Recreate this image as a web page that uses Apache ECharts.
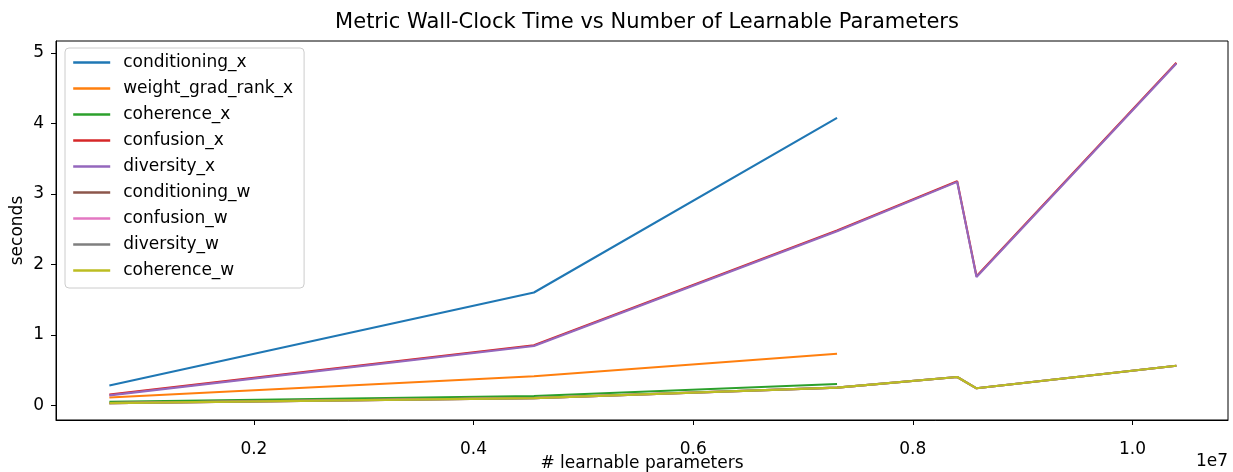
<!DOCTYPE html>
<html>
<head>
<meta charset="utf-8">
<script src="https://cdn.jsdelivr.net/npm/echarts@6/dist/echarts.min.js"></script>
<style>
  html, body { margin: 0; padding: 0; background: #fff; }
  #chart { width: 1233px; height: 472px; }
</style>
</head>
<body>
<div id="chart"></div>
<script>
// Model sizes (learnable parameters) at which each metric was timed
const paramCounts = [684000, 4550000, 7310000, 8404000, 8580000, 10400000];

// Wall-clock time in seconds per metric
const conditioningX   = [0.28, 1.60, 4.08];
const weightGradRankX = [0.11, 0.41, 0.73];
const coherenceX      = [0.05, 0.13, 0.30];
const confusionX      = [0.15, 0.85, 2.48, 3.18, 1.83, 4.86];
const diversityX      = [0.14, 0.84, 2.47, 3.17, 1.82, 4.85];
const conditioningW   = [0.03, 0.10, 0.25, 0.40, 0.24, 0.56];
const confusionW      = [0.03, 0.10, 0.25, 0.40, 0.24, 0.56];
const diversityW      = [0.03, 0.10, 0.25, 0.40, 0.24, 0.56];
const coherenceW      = [0.03, 0.10, 0.25, 0.40, 0.24, 0.56];

const seriesNames = ['conditioning_x', 'weight_grad_rank_x', 'coherence_x', 'confusion_x',
  'diversity_x', 'conditioning_w', 'confusion_w', 'diversity_w', 'coherence_w'];
const seriesValues = [conditioningX, weightGradRankX, coherenceX, confusionX,
  diversityX, conditioningW, confusionW, diversityW, coherenceW];

// Axis tick positions
const xTicks = [2000000, 4000000, 6000000, 8000000, 10000000];
const yTicks = [0, 1, 2, 3, 4, 5];

const palette = ['#1f77b4', '#ff7f0e', '#2ca02c', '#d62728', '#9467bd',
  '#8c564b', '#e377c2', '#7f7f7f', '#bcbd22'];

const FONT = 'DejaVu Sans';

const chart = echarts.init(document.getElementById('chart'), null, { renderer: 'canvas' });

const series = seriesNames.map((name, i) => ({
  name: name,
  type: 'line',
  symbol: 'none',
  animation: false,
  data: seriesValues[i].map((v, j) => [paramCounts[j], v]),
  lineStyle: { width: 2.1, color: palette[i] },
  itemStyle: { color: palette[i] }
}));

chart.setOption({
  animation: false,
  color: palette,
  title: {
    text: 'Metric Wall-Clock Time vs Number of Learnable Parameters',
    left: 642,
    textAlign: 'center',
    top: 7,
    textStyle: { fontFamily: FONT, fontSize: 21, fontWeight: 'normal', color: '#000' }
  },
  grid: {
    left: 56, right: 5, top: 41, bottom: 52,
    outerBoundsMode: 'none',
    containLabel: false,
    show: true, borderColor: '#000', borderWidth: 1, backgroundColor: 'transparent'
  },
  legend: {
    orient: 'vertical',
    left: 65, top: 48,
    itemWidth: 37, itemHeight: 17, itemGap: 9,
    padding: [6, 11, 9, 7],
    backgroundColor: 'rgba(255,255,255,0.8)',
    borderColor: '#cccccc', borderWidth: 1, borderRadius: 4,
    itemStyle: { opacity: 0 },
    lineStyle: { width: 2.4 },
    textStyle: { fontFamily: FONT, fontSize: 17, lineHeight: 17, color: '#000', padding: [0, 0, 0, 8] },
    data: seriesNames
  },
  xAxis: {
    type: 'value',
    min: 198000, max: 10870000,
    name: '# learnable parameters',
    nameLocation: 'middle',
    nameMoveOverlap: false,
    nameGap: 35,
    nameTextStyle: { fontFamily: FONT, fontSize: 17, color: '#000' },
    axisLine: { show: true, onZero: false, lineStyle: { color: '#000', width: 1 } },
    axisTick: { show: true, length: 5, lineStyle: { color: '#000' }, customValues: xTicks },
    axisLabel: {
      fontFamily: FONT, fontSize: 17, color: '#000', margin: 21,
      customValues: xTicks,
      formatter: v => (v / 1e7).toFixed(1)
    },
    splitLine: { show: false }
  },
  yAxis: {
    type: 'value',
    min: -0.21, max: 5.17,
    name: 'seconds',
    nameLocation: 'middle',
    nameMoveOverlap: false,
    nameGap: 30,
    nameTextStyle: { fontFamily: FONT, fontSize: 17, color: '#000' },
    axisLine: { show: true, onZero: false, lineStyle: { color: '#000', width: 1 } },
    axisTick: { show: true, length: 5, lineStyle: { color: '#000' }, customValues: yTicks },
    axisLabel: {
      fontFamily: FONT, fontSize: 17, color: '#000', margin: 12,
      customValues: yTicks,
      formatter: v => String(v)
    },
    splitLine: { show: false }
  },
  graphic: [{
    type: 'text',
    right: 5, top: 453,
    style: { text: '1e7', fontFamily: FONT, fontSize: 17, fill: '#000' }
  }],
  series: series
});
</script>
</body>
</html>
